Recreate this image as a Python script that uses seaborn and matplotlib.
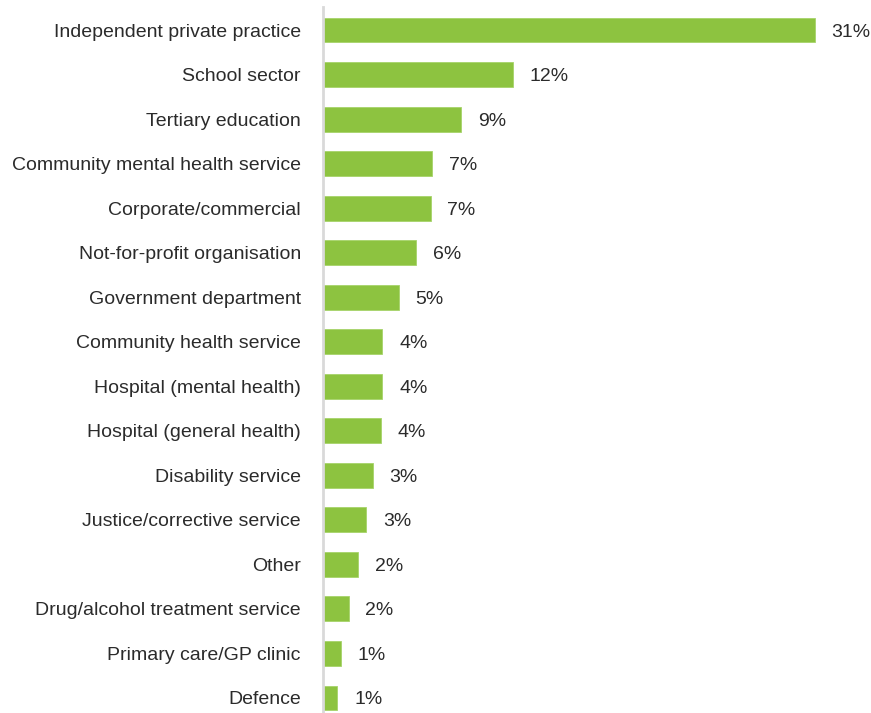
import matplotlib
matplotlib.use("Agg")
import matplotlib.pyplot as plt
import seaborn as sns
import pandas as pd
from matplotlib import font_manager

categories = [
    "Independent private practice",
    "School sector",
    "Tertiary education",
    "Community mental health service",
    "Corporate/commercial",
    "Not-for-profit organisation",
    "Government department",
    "Community health service",
    "Hospital (mental health)",
    "Hospital (general health)",
    "Disability service",
    "Justice/corrective service",
    "Other",
    "Drug/alcohol treatment service",
    "Primary care/GP clinic",
    "Defence",
]
values = [30.6, 11.8, 8.6, 6.8, 6.7, 5.8, 4.7, 3.7, 3.7, 3.6, 3.1, 2.7, 2.2, 1.6, 1.1, 0.9]

df = pd.DataFrame({"setting": categories, "pct": values})

sns.set_theme(style="white")
names = {f.name for f in font_manager.fontManager.ttflist}
family = "Liberation Sans Narrow" if "Liberation Sans Narrow" in names else "Liberation Sans"
plt.rcParams["font.family"] = [family, "DejaVu Sans"]

W, H = 871, 713
fig = plt.figure(figsize=(W / 100, H / 100), dpi=100)
ax = fig.add_axes([323 / W, 0, 548 / W, 706 / H])

sns.barplot(data=df, x="pct", y="setting", color="#8DC340", saturation=1,
            width=0.56, orient="h", ax=ax, edgecolor="#A6D46A", linewidth=0.6)

ax.set_xlim(0, 34.08)
ax.set_ylim(15.337, -0.517)
ax.set_xlabel("")
ax.set_ylabel("")
ax.set_xticks([])
for s in ["top", "right", "bottom"]:
    ax.spines[s].set_visible(False)
ax.spines["left"].set_color("#D9D9D9")
ax.spines["left"].set_linewidth(2)

ax.tick_params(axis="y", length=0, pad=16, labelsize=14, labelcolor="#2b2b2b")

for container in ax.containers:
    labels = ax.bar_label(container, labels=[f"{v:.0f}%" for v in values],
                          padding=12, fontsize=14, color="#2b2b2b")
    for t in labels:
        t.set_va("center_baseline")

fig.savefig("out.png", dpi=100)
